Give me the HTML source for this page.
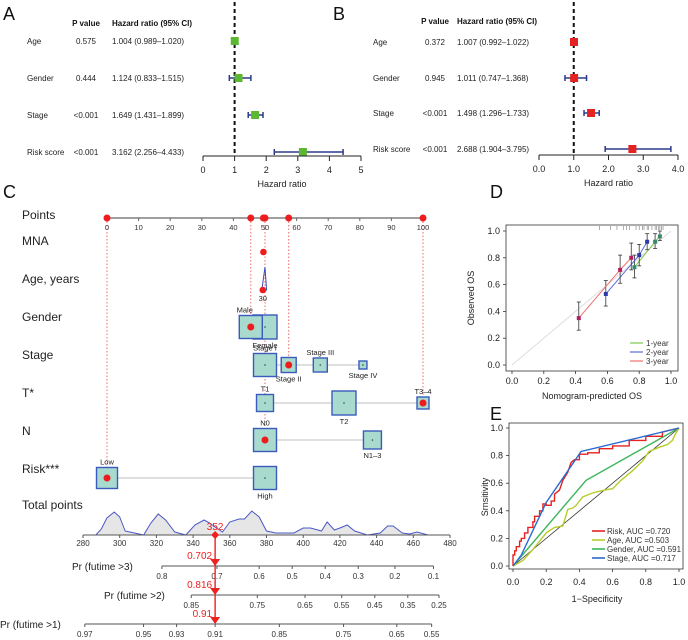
<!DOCTYPE html>
<html><head><meta charset="utf-8"><style>
body{margin:0;background:#fff}
svg{display:block;font-family:"Liberation Sans",Arial,sans-serif}
</style></head><body>
<svg id="s" width="688" height="640" viewBox="0 0 688 640"></svg>
<script>
// ---- data ----
const forestVars=["Age","Gender","Stage","Risk score"];
const aP=["0.575","0.444","<0.001","<0.001"];
const aHR=[1.004,1.124,1.649,3.162];
const aLo=[0.989,0.833,1.431,2.256];
const aHi=[1.020,1.515,1.899,4.433];
const aTicks=[0,1,2,3,4,5];
const bP=["0.372","0.945","<0.001","<0.001"];
const bHR=[1.007,1.011,1.498,2.688];
const bLo=[0.992,0.747,1.296,1.904];
const bHi=[1.022,1.368,1.733,3.795];
const bTicks=[0,1,2,3,4];
const pointTicks=[0,10,20,30,40,50,60,70,80,90,100];
const selPoints=[0,45.5,49.5,50,57.5,100];
const genderLv=["Male","Female"],genderPts=[45.5,50];
const stageLv=["Stage I","Stage II","Stage III","Stage IV"],stagePts=[50,57.5,67.5,81];
const tLv=["T1","T2","T3\u20134"],tPts=[50,75,100];
const nLv=["N0","N1\u20133"],nPts=[50,84];
const riskLv=["Low","High"],riskPts=[0,50];
const totalTicks=[280,300,320,340,360,380,400,420,440,460,480];
const densTp=[287,290,293,297,300,303,313,317,321,325,330,336,341,346,349,352,356,360,365,368,372,376,380,385,395,400,404,410,413,417,420,424,428,435,442,446,449,454,458,462,466,468];
const densH=[0,6,17,23,18,4,0,12,21,15,3,0,10,15,12,8,3,13,16,16,24,18,4,2,2,7,7,4,13,5,7,10,4,0,2,9,9,2,1,3,1,0];
const totalSel=352;
const p3Lab=["0.8","0.7","0.6","0.5","0.4","0.3","0.2","0.1"],p3Tp=[323,353,376,394,412,430,450,471];
const p2Lab=["0.85","0.75","0.65","0.55","0.45","0.35","0.25"],p2Tp=[339,375,401,421,439,457,474];
const p1Lab=["0.97","0.95","0.93","0.91","0.85","0.75","0.65","0.55"],p1Tp=[281,313,331,352,387,422,451,470];
const prVals=["0.702","0.816","0.91"];
const calTicks=[0,0.2,0.4,0.6,0.8,1.0];
const cal1x=[0.77,0.90,0.93],cal1y=[0.73,0.92,0.96],cal1lo=[0.65,0.87,0.93],cal1hi=[0.82,0.98,1.0];
const cal2x=[0.59,0.80,0.85],cal2y=[0.53,0.82,0.92],cal2lo=[0.44,0.74,0.86],cal2hi=[0.63,0.90,0.98];
const cal3x=[0.42,0.68,0.75],cal3y=[0.35,0.71,0.80],cal3lo=[0.26,0.61,0.71],cal3hi=[0.47,0.82,0.91];
const rug=[0.55,0.62,0.66,0.7,0.72,0.74,0.78,0.8,0.82,0.83,0.85,0.86,0.88,0.9,0.91,0.92,0.93,0.94,0.95];
const riskX=[0,0,0.01,0.01,0.02,0.02,0.04,0.04,0.05,0.05,0.07,0.07,0.09,0.09,0.12,0.12,0.13,0.13,0.16,0.16,0.18,0.18,0.2,0.2,0.23,0.23,0.25,0.25,0.28,0.3,0.33,0.35,0.37,0.4,0.4,0.45,0.45,0.52,0.52,0.6,0.6,0.7,0.7,0.8,0.8,0.9,0.9,1];
const riskY=[0,0.08,0.08,0.11,0.11,0.14,0.14,0.18,0.18,0.2,0.2,0.24,0.24,0.28,0.28,0.32,0.32,0.36,0.36,0.40,0.40,0.45,0.45,0.44,0.44,0.47,0.47,0.52,0.55,0.62,0.68,0.75,0.77,0.77,0.81,0.81,0.82,0.82,0.85,0.85,0.87,0.87,0.91,0.91,0.94,0.94,0.97,1];
const ageX=[0,0.06,0.12,0.2,0.25,0.3,0.33,0.36,0.38,0.42,0.48,0.55,0.6,0.65,0.72,0.78,0.82,0.88,0.93,0.96,0.98,1];
const ageY=[0,0.04,0.12,0.24,0.28,0.29,0.41,0.42,0.44,0.50,0.53,0.55,0.56,0.62,0.69,0.76,0.83,0.86,0.88,0.91,0.96,1];
const genX=[0,0.44,1],genY=[0,0.62,1];
const stgX=[0,0.05,0.2,0.41,1],stgY=[0,0.08,0.46,0.83,1];
const rocLabels=["Risk, AUC =0.720","Age, AUC =0.503","Gender, AUC =0.591","Stage, AUC =0.717"];

// ---- helpers ----
const S=document.getElementById('s');const NS="http://www.w3.org/2000/svg";
function el(tag,attrs,parent){const e=document.createElementNS(NS,tag);for(const k in attrs)e.setAttribute(k,attrs[k]);(parent||S).appendChild(e);return e;}
function tx(x,y,str,size,anchor,fill,extra){const t=el('text',Object.assign({x:x,y:y,'font-size':size,'text-anchor':anchor||'start',fill:fill||'#222'},extra||{}));t.textContent=str;return t;}
function line(x1,y1,x2,y2,st,w,dash){const a={x1:x1,y1:y1,x2:x2,y2:y2,stroke:st,'stroke-width':w||1};if(dash)a['stroke-dasharray']=dash;return el('line',a);}

// panel letters
[["A",3,20],["B",333,20],["C",3,198],["D",490,198],["E",490,420]].forEach(l=>{const t=tx(l[1],l[2],l[0],18,'start','#111');

});

// ---- forest plots ----
function forest(id,xs,ys,labX,pX,hrX,hdrY,axY,ticks,fmt,P,HR,LO,HI,col,dashX){
 const g=el('g',{});
 
 
 tx(pX,hdrY,"P value",8,'middle','#111',{'font-weight':'bold'});
 tx(hrX,hdrY,"Hazard ratio (95% CI)",8,'start','#111',{'font-weight':'bold'});
 line(xs(1),2,xs(1),axY-2,'#111',2,'4,3');
 forestVars.forEach((v,i)=>{const y=ys[i];
  tx(labX,y+3,v,8,'start','#222');tx(pX,y+3,P[i],8,'middle','#222');
  tx(hrX,y+3,HR[i].toFixed(3)+" ("+LO[i].toFixed(3)+"\u2013"+HI[i].toFixed(3)+")",8,'start','#222');
  if(HI[i]-LO[i]>0.05){line(xs(LO[i]),y,xs(HI[i]),y,'#2b3a8c',1.5);line(xs(LO[i]),y-3,xs(LO[i]),y+3,'#2b3a8c',1.5);line(xs(HI[i]),y-3,xs(HI[i]),y+3,'#2b3a8c',1.5);}
  const r=el('rect',{x:xs(HR[i])-4,y:y-4,width:8,height:8,fill:col});
  
  
 });
 line(xs(ticks[0]),axY,xs(ticks[ticks.length-1]),axY,'#222',1);
 ticks.forEach(t=>{line(xs(t),axY,xs(t),axY+5,'#222',1);tx(xs(t),axY+17,fmt(t),9,'middle','#222');});
 tx(xs((ticks[0]+ticks[ticks.length-1])/2),axY+31,"Hazard ratio",9,'middle','#222');
}
const xA=v=>203+v*31.6, xB=v=>539+v*34.75;
forest('a',xA,[41,78,115,152],27,86,112,26,156,aTicks,t=>String(t),aP,aHR,aLo,aHi,'#5cb832');
forest('b',xB,[42,78,113,149],373,435,457,24,155,bTicks,t=>t.toFixed(1),bP,bHR,bLo,bHi,'#e32222');

// ---- nomogram ----
const xP=p=>107+p*3.16, xT=t=>83+(t-280)*1.835;
const rowLab=[["Points",215],["MNA",241],["Age, years",279],["Gender",317],["Stage",355],["T*",393],["N",431],["Risk***",469],["Total points",505]];
rowLab.forEach(r=>{const t=tx(22,r[1]+4,r[0],12,'start','#222');

});
// dotted guides
[[0,478],[45.5,327],[50,440],[57.5,365],[100,403]].forEach(d=>line(xP(d[0]),218,xP(d[0]),d[1],'#f06a6a',1,'1.5,2'));
line(xP(0),218,xP(100),218,'#666',1.2);
pointTicks.forEach(p=>{line(xP(p),218,xP(p),221,'#666',1);tx(xP(p),230,String(p),7.5,'middle','#333');});
selPoints.forEach(p=>{const c=el('circle',{cx:xP(p),cy:218,r:3.5,fill:'#ee1c1c'});

});
el('circle',{cx:xP(49.5),cy:252,r:3.3,fill:'#ee1c1c'});
el('path',{d:`M${xP(49)} 290 L${xP(50)} 267 L${xP(50.5)} 290 Z`,fill:'none',stroke:'#3a4fb5','stroke-width':1});
el('circle',{cx:xP(49.3),cy:290,r:3.3,fill:'#ee1c1c'});
tx(xP(49.3),301,"30",7.5,'middle','#222');
function boxRow(name,lv,pts,y,sizes,labPos,selIdx){
 pts.forEach((p,i)=>{if(i>0)line(xP(pts[i-1]),y,xP(p),y,'#ccc',1.2);});
 const order=name==='gender'?[1,0]:pts.map((_,i)=>i);
 order.forEach(i=>{const s=sizes[i];
  const r=el('rect',{x:xP(pts[i])-s/2,y:y-s/2,width:s,height:s,fill:'#a8dacd',stroke:'#3a5bbd','stroke-width':1.4});
  
  
  el('circle',{cx:xP(pts[i]),cy:y,r:0.8,fill:'#444'});
  const up=labPos[i]<0;tx(xP(pts[i])+(name==='gender'&&i===0?-6:0),up?y-s/2-3:y+s/2+9,lv[i],7.5,'middle','#222');});
 if(selIdx>=0)el('circle',{cx:xP(pts[selIdx]),cy:y,r:3.5,fill:'#ee1c1c'});
}
boxRow('gender',genderLv,genderPts,327,[23,24],[-1,1],0);
boxRow('stage',stageLv,stagePts,365,[23,15,14,8],[-1,1,-1,1],1);
boxRow('t',tLv,tPts,403,[17,24,12],[-1,1,-1],2);
boxRow('n',nLv,nPts,440,[23,18],[-1,1],0);
boxRow('risk',riskLv,riskPts,478,[21,23],[-1,1],0);
// density
let dp=`M${xT(densTp[0])} 535 `;densTp.forEach((t,i)=>dp+=`L${xT(t).toFixed(1)} ${(535-densH[i]).toFixed(1)} `);dp+=`L${xT(densTp[densTp.length-1])} 535 Z`;
const dens=el('path',{d:dp,fill:'#e6e6e6',stroke:'#4a58c8','stroke-width':1});


line(xT(280),535,xT(480),535,'#555',1);
totalTicks.forEach(t=>{line(xT(t),535,xT(t),538,'#555',1);tx(xT(t),546,String(t),8,'middle','#333');});
function prAxis(lbl,lx,y,labs,tps,val){
 line(xT(tps[0]),y,xT(tps[tps.length-1]),y,'#555',1);
 labs.forEach((l,i)=>{line(xT(tps[i]),y,xT(tps[i]),y+3,'#555',1);tx(xT(tps[i]),y+13,l,8,'middle','#333');});
 const t=tx(lx,y+4,lbl,10,'start','#222');
 
 
 tx(xT(totalSel)-3,y-7,val,10,'end','#ee2020');
}
prAxis("Pr (futime >3)",72,566,p3Lab,p3Tp,prVals[0]);
prAxis("Pr (futime >2)",104,595,p2Lab,p2Tp,prVals[1]);
prAxis("Pr (futime >1)",0,624,p1Lab,p1Tp,prVals[2]);
const sx=xT(totalSel);
line(sx,535,sx,622,'#ee2020',1.4);
el('path',{d:`M${sx} 531 L${sx+4} 535 L${sx} 539 L${sx-4} 535 Z`,fill:'#ee2020'});
[566,595,624].forEach(y=>el('path',{d:`M${sx-5} ${y-7} L${sx+5} ${y-7} L${sx} ${y} Z`,fill:'#ee2020'}));
tx(sx,530,String(totalSel),10,'middle','#ee2020');

// ---- calibration D ----
const xD=v=>512+v*159, yD=v=>365-v*134;
el('rect',{x:506,y:225,width:172,height:146,fill:'none',stroke:'#333','stroke-width':0.8});
line(xD(0),yD(0),xD(1),yD(1),'#ddd',1);
calTicks.forEach(t=>{line(xD(t),371,xD(t),374,'#333',0.8);tx(xD(t),384,t.toFixed(1),9,'middle','#222');
 line(503,yD(t),506,yD(t),'#333',0.8);tx(500,yD(t)+3,t.toFixed(1),9,'end','#222');});
tx(592,399,"Nomogram-predicted OS",9,'middle','#222');
tx(0,0,"Observed OS",9,'middle','#222',{transform:'translate(474,298) rotate(-90)'});
rug.forEach(r=>line(xD(r),226,xD(r),230,'#777',0.6));
function calSeries(nm,X,Y,LO,HI,col,ptcol){
 const pts=X.map((x,i)=>xD(x)+','+yD(Y[i])).join(' ');
 const pl=el('polyline',{points:pts,fill:'none',stroke:col,'stroke-width':1});
 
 
 X.forEach((x,i)=>{line(xD(x),yD(LO[i]),xD(x),yD(HI[i]),'#333',0.8);line(xD(x)-2,yD(LO[i]),xD(x)+2,yD(LO[i]),'#333',0.8);line(xD(x)-2,yD(HI[i]),xD(x)+2,yD(HI[i]),'#333',0.8);
  el('rect',{x:xD(x)-2,y:yD(Y[i])-2,width:4,height:4,fill:ptcol});});
}
calSeries('1-year',cal1x,cal1y,cal1lo,cal1hi,'#7cc94a','#3a8a6a');
calSeries('2-year',cal2x,cal2y,cal2lo,cal2hi,'#5a6bd8','#2a3aa8');
calSeries('3-year',cal3x,cal3y,cal3lo,cal3hi,'#f07070','#b02060');
[["1-year",'#7cc94a',343],["2-year",'#5a6bd8',352],["3-year",'#f07070',361]].forEach(l=>{line(630,l[2],643,l[2],l[1],1.2);tx(646,l[2]+3,l[0],8,'start','#333');});

// ---- ROC E ----
const xE=v=>513+v*166, yE=v=>566-v*138;
el('rect',{x:509,y:423,width:174,height:146,fill:'none',stroke:'#333','stroke-width':0.8});
calTicks.forEach(t=>{line(xE(t),569,xE(t),572,'#333',0.8);tx(xE(t),585,t.toFixed(1),9,'middle','#222');
 line(506,yE(t),509,yE(t),'#333',0.8);tx(503,yE(t)+3,t.toFixed(1),9,'end','#222');});
tx(597,602,"1\u2212Specificity",9,'middle','#222');
tx(0,0,"Srnsitivity",9,'middle','#222',{transform:'translate(488,497) rotate(-90)'});
line(xE(0),yE(0),xE(1),yE(1),'#333',0.8);
function roc(nm,X,Y,col){const pl=el('polyline',{points:X.map((x,i)=>xE(x).toFixed(1)+','+yE(Y[i]).toFixed(1)).join(' '),fill:'none',stroke:col,'stroke-width':1.4});
 
 }
roc('gender',genX,genY,'#3cb55a');
roc('age',ageX,ageY,'#b8cc2a');
roc('risk',riskX,riskY,'#e82020');
roc('stage',stgX,stgY,'#2a6ad0');
const lc=['#e82020','#b8cc2a','#3cb55a','#2a6ad0'];
rocLabels.forEach((l,i)=>{const y=531+i*9;line(592,y,605,y,lc[i],1.6);tx(607,y+3,l,8,'start','#333');});
</script>
</body></html>
